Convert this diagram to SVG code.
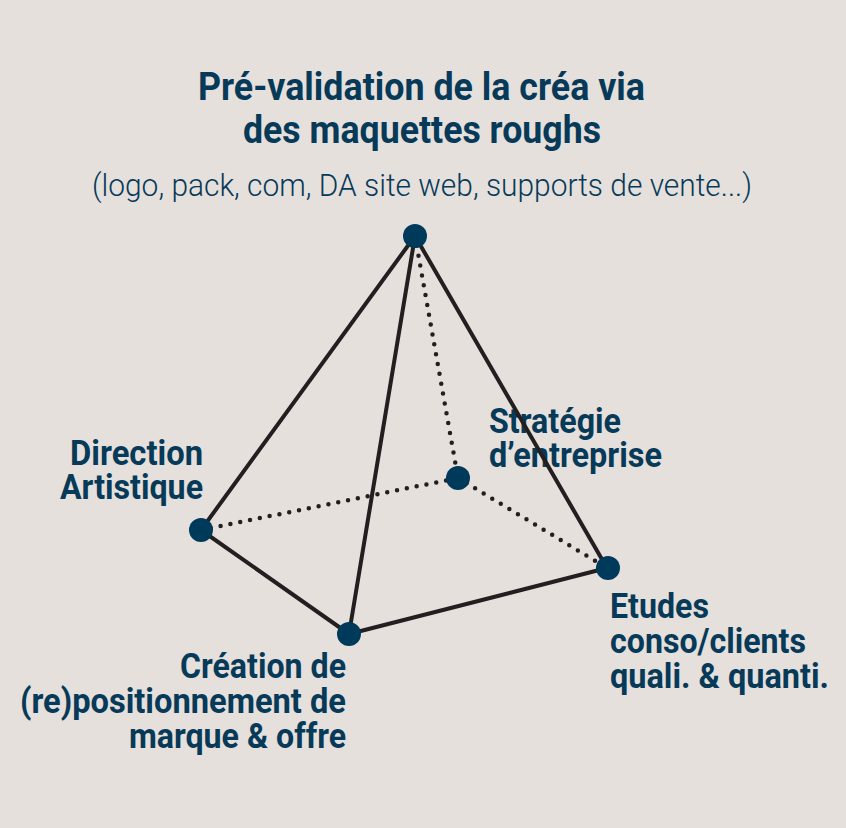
<svg xmlns="http://www.w3.org/2000/svg" width="846" height="828" viewBox="0 0 846 828">
<style>
.t{font-family:"Roboto","Liberation Sans",sans-serif;fill:#073a58;}
.b{font-weight:700;font-size:35px;}
.h{font-weight:700;font-size:39px;}
.s{font-weight:300;font-size:32px;}
.solid{stroke:#231f20;stroke-width:4;fill:none;stroke-linecap:round;}
.dot{stroke:#231f20;stroke-width:4.5;fill:none;stroke-linecap:round;stroke-dasharray:0 10;}
.n{fill:#003a5a;}
</style>
<rect width="846" height="828" fill="#e5e0dc"/>
<g id="title">
<text class="t h" x="198" y="100" textLength="447" lengthAdjust="spacingAndGlyphs">Pré-validation de la créa via</text>
<text class="t h" x="243" y="143" textLength="358" lengthAdjust="spacingAndGlyphs">des maquettes roughs</text>
<text class="t s" x="92" y="196" textLength="660" lengthAdjust="spacingAndGlyphs">(logo, pack, com, DA site web, supports de vente...)</text>
</g>
<g id="label-direction">
<text class="t b" x="70" y="465" textLength="133" lengthAdjust="spacingAndGlyphs">Direction</text>
<text class="t b" x="60" y="499" textLength="143" lengthAdjust="spacingAndGlyphs">Artistique</text>
</g>
<g id="label-strategie">
<text class="t b" x="489" y="433" textLength="132" lengthAdjust="spacingAndGlyphs">Stratégie</text>
<text class="t b" x="489" y="467" textLength="173" lengthAdjust="spacingAndGlyphs">d’entreprise</text>
</g>
<g id="label-etudes">
<text class="t b" x="610" y="618" textLength="99" lengthAdjust="spacingAndGlyphs">Etudes</text>
<text class="t b" x="610" y="653" textLength="196" lengthAdjust="spacingAndGlyphs">conso/clients</text>
<text class="t b" x="610" y="688" textLength="219" lengthAdjust="spacingAndGlyphs">quali. &amp; quanti.</text>
</g>
<g id="label-creation">
<text class="t b" x="180" y="678" textLength="166" lengthAdjust="spacingAndGlyphs">Création de</text>
<text class="t b" x="20" y="713" textLength="326" lengthAdjust="spacingAndGlyphs">(re)positionnement de</text>
<text class="t b" x="129" y="748" textLength="217" lengthAdjust="spacingAndGlyphs">marque &amp; offre</text>
</g>
<g id="connectors">
<line class="dot" x1="415" y1="236" x2="458" y2="478"/>
<line class="dot" x1="201" y1="530" x2="458" y2="478"/>
<line class="dot" x1="458" y1="478" x2="607" y2="568"/>
<line class="solid" x1="415" y1="236" x2="201" y2="530"/>
<line class="solid" x1="415" y1="236" x2="349" y2="634"/>
<line class="solid" x1="415" y1="236" x2="607" y2="568"/>
<line class="solid" x1="201" y1="530" x2="349" y2="634"/>
<line class="solid" x1="349" y1="634" x2="607" y2="568"/>
</g>
<g id="node-top"><circle class="n" cx="415" cy="236" r="12"/></g>
<g id="node-left"><circle class="n" cx="201" cy="530" r="12"/></g>
<g id="node-bottom"><circle class="n" cx="349" cy="634" r="12"/></g>
<g id="node-right"><circle class="n" cx="608" cy="568" r="12"/></g>
<g id="node-back"><circle class="n" cx="458" cy="478" r="12"/></g>
</svg>
